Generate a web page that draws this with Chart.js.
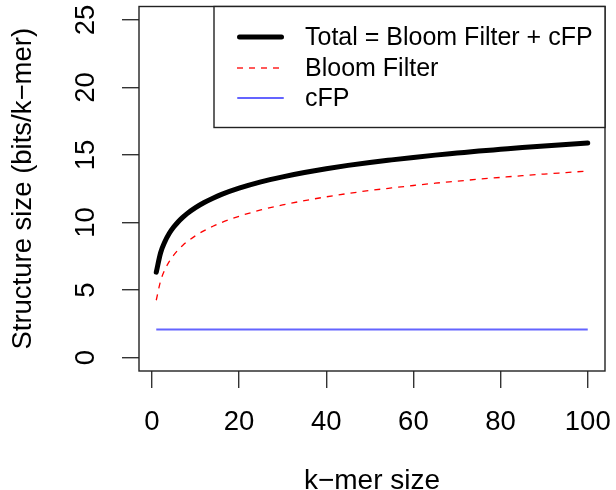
<!DOCTYPE html>
<html><head><meta charset="utf-8">
<script src="https://cdn.jsdelivr.net/npm/chart.js@4.4.1/dist/chart.umd.min.js"></script>
<style>html,body{margin:0;padding:0;background:#fff;} canvas{display:block;}</style>
</head><body>
<canvas id="c" width="616" height="490"></canvas>
<script>
const kmerSizes = [1,2,3,4,5,6,7,8,10,12,14,16,20,25,30,35,40,45,50,55,60,65,70,75,80,85,90,95,100];
const bloomBits = [4.24,5.68,6.52,7.12,7.58,7.96,8.28,8.56,9.02,9.40,9.72,10.00,10.46,10.93,11.30,11.62,11.90,12.15,12.37,12.56,12.74,12.91,13.06,13.21,13.34,13.47,13.59,13.70,13.81];
const cfpBits = [2.08,2.08,2.08,2.08,2.08,2.08,2.08,2.08,2.08,2.08,2.08,2.08,2.08,2.08,2.08,2.08,2.08,2.08,2.08,2.08,2.08,2.08,2.08,2.08,2.08,2.08,2.08,2.08,2.08];
const totalBits = [6.32,7.76,8.60,9.20,9.66,10.04,10.36,10.64,11.10,11.48,11.80,12.08,12.54,13.01,13.38,13.70,13.98,14.23,14.45,14.64,14.82,14.99,15.14,15.29,15.42,15.55,15.67,15.78,15.89];
const xTicks = [0,20,40,60,80,100];
const yTicks = [0,5,10,15,20,25];
const seriesLabels = ['Total = Bloom Filter + cFP','Bloom Filter','cFP'];
const xTitle = 'k\u2212mer size';
const yTitle = 'Structure size (bits/k\u2212mer)';

const FONT = '"Liberation Sans", Arial, Helvetica, sans-serif';
const pts = arr => kmerSizes.map((k,i)=>({x:k, y:arr[i]}));

const boxPlugin = {
  id:'boxPlugin',
  afterDatasetsDraw(chart){
    const {ctx, chartArea:a} = chart;
    ctx.save();
    ctx.strokeStyle='#222'; ctx.lineWidth=1.4;
    ctx.strokeRect(a.left, a.top, a.right-a.left, a.bottom-a.top);
    ctx.restore();
  }
};
const legendPlugin = {
  id:'legendPlugin',
  afterDatasetsDraw(chart){
    const {ctx, chartArea:a} = chart;
    const left = 214, top = a.top, right = a.right, bottom = 127.5;
    ctx.save();
    ctx.fillStyle='#fff'; ctx.fillRect(left, top, right-left, bottom-top);
    ctx.strokeStyle='#222'; ctx.lineWidth=1.4; ctx.strokeRect(left, top, right-left, bottom-top);
    const rows=[37,68,98];
    chart.data.datasets.forEach((ds,i)=>{
      ctx.beginPath();
      ctx.strokeStyle=ds.borderColor; ctx.lineWidth=ds.borderWidth;
      ctx.setLineDash(ds.borderDash||[]); ctx.lineCap= ds.borderDash ? 'butt' : 'round';
      const inset = ds.borderDash ? 0 : ds.borderWidth/2;
      ctx.moveTo(237+inset, rows[i]); ctx.lineTo(284-inset, rows[i]); ctx.stroke();
      ctx.setLineDash([]);
      ctx.fillStyle='#000'; ctx.font='25px '+FONT; ctx.textBaseline='middle'; ctx.textAlign='left';
      ctx.fillText(ds.label, 305, rows[i]+1);
    });
    ctx.restore();
  }
};

new Chart(document.getElementById('c'), {
  type:'line',
  data:{
    datasets:[
      {label:seriesLabels[0], data:pts(totalBits), borderColor:'#000', borderWidth:5, borderCapStyle:'round', borderJoinStyle:'round', pointRadius:0, cubicInterpolationMode:'monotone', fill:false},
      {label:seriesLabels[1], data:pts(bloomBits), borderColor:'#ff0000', borderWidth:1.3, borderDash:[6,6], pointRadius:0, cubicInterpolationMode:'monotone', fill:false},
      {label:seriesLabels[2], data:pts(cfpBits), borderColor:'#6464ff', borderWidth:2, pointRadius:0, fill:false}
    ]
  },
  options:{
    responsive:false, animation:false,
    layout:{padding:{top:6.5,right:11,left:0,bottom:0}},
    plugins:{legend:{display:false}, tooltip:{enabled:false}},
    scales:{
      x:{
        type:'linear', min:-2.96, max:103.96,
        afterFit(s){ s.height = 119; s.paddingLeft = 0; s.paddingRight = 0; },
        afterBuildTicks(s){ s.ticks = xTicks.map(v=>({value:v})); },
        ticks:{font:{size:27.5, family:FONT}, color:'#000', padding:17.5, maxRotation:0, autoSkip:false},
        grid:{drawOnChartArea:false, tickLength:17, color:'#333', lineWidth:1.4},
        border:{display:false},
        title:{display:true, text:xTitle, color:'#000', font:{size:28, family:FONT, lineHeight:0.65}, padding:{top:0,bottom:0}}
      },
      y:{
        type:'linear', min:-1, max:26,
        afterFit(s){ s.width = 139; s.paddingTop = 0; s.paddingBottom = 0; },
        afterBuildTicks(s){ s.ticks = yTicks.map(v=>({value:v})); },
        ticks:{font:{size:27.5, family:FONT}, color:'#000', padding:20, minRotation:90, maxRotation:90, crossAlign:'center', autoSkip:false},
        grid:{drawOnChartArea:false, tickLength:17, color:'#333', lineWidth:1.4},
        border:{display:false},
        title:{display:true, text:yTitle, color:'#000', font:{size:27.5, family:FONT, lineHeight:1}, padding:{top:10,bottom:0}}
      }
    }
  },
  plugins:[boxPlugin, legendPlugin]
});
</script>
</body></html>
